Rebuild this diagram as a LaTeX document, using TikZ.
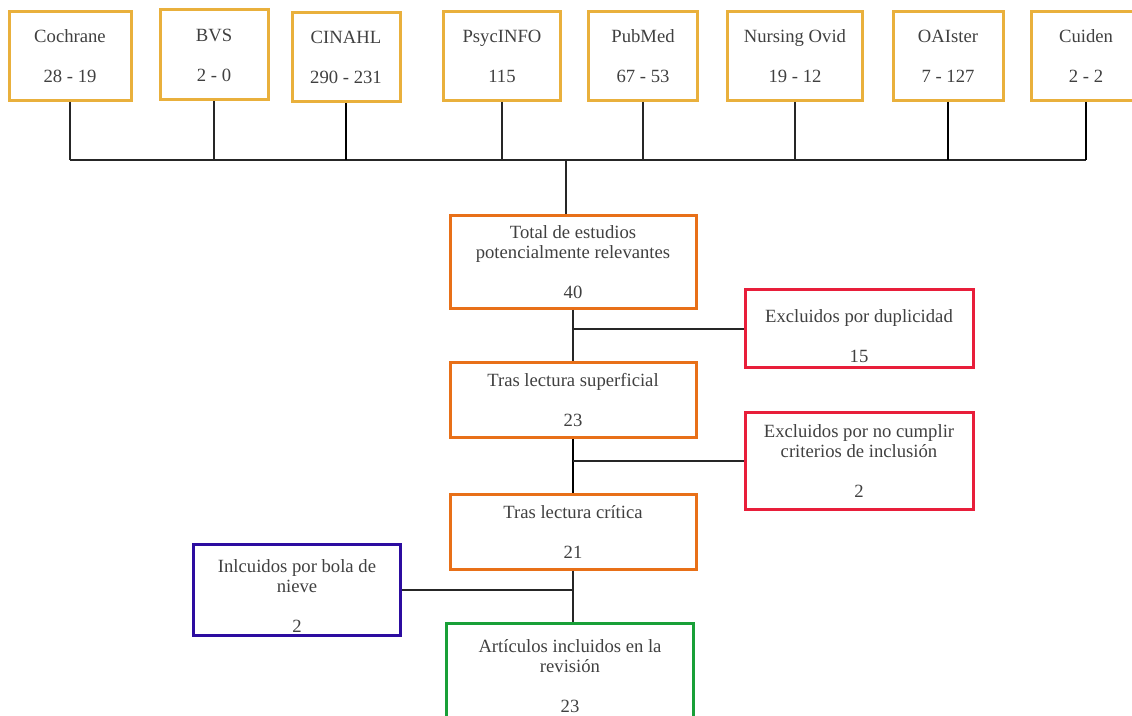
\documentclass[tikz,border=0pt]{standalone}
\usepackage{fontspec}
\setmainfont{Liberation Serif}
\usetikzlibrary{positioning,calc}
\definecolor{oro}{RGB}{233,176,60}
\definecolor{naranja}{RGB}{232,112,24}
\definecolor{rojo}{RGB}{232,30,58}
\definecolor{morado}{RGB}{44,12,160}
\definecolor{verde}{RGB}{24,160,56}
\newcommand*{\px}{0.75pt}
\newcommand*{\cifra}[1]{\\[15pt]#1}
\tikzset{
  caja/.style={draw,line width=2.25pt,align=center,inner sep=0pt,
    text=black!75,font=\fontsize{14}{15}\selectfont},
  fuente/.style={caja,draw=oro,minimum height=89*\px},
  etapa/.style={caja,draw=naranja,minimum width=246*\px},
  excl/.style={caja,draw=rojo,minimum width=228*\px},
  linea/.style={line width=1.1pt,black!85},
  lineag/.style={line width=1.9pt,black}
}

\begin{document}
\begin{tikzpicture}[x=0.75pt,y=-0.75pt]
\useasboundingbox (0,0) rectangle (1132,716);
% Bases de datos
\node[fuente,minimum width=122*\px] (cochrane) at (70,56) {Cochrane\cifra{28 - 19}};
\node[fuente,minimum width=108*\px,minimum height=90*\px] (bvs) at (214,55) {BVS\cifra{2 - 0}};
\node[fuente,minimum width=108*\px] (cinahl) at (346,57) {CINAHL\cifra{290 - 231}};
\node[fuente,minimum width=117*\px] (psyc) at (502,56) {PsycINFO\cifra{115}};
\node[fuente,minimum width=109*\px] (pubmed) at (643,56) {PubMed\cifra{67 - 53}};
\node[fuente,minimum width=135*\px] (ovid) at (795,56) {Nursing Ovid\cifra{19 - 12}};
\node[fuente,minimum width=110*\px] (oaister) at (948,56) {OAIster\cifra{7 - 127}};
\node[fuente,minimum width=110*\px] (cuiden) at (1086,56) {Cuiden\cifra{2 - 2}};
% Linea comun
\coordinate (bus) at (566,160);
\draw[linea] (cochrane.south |- bus) -- (cuiden.south |- bus);
\foreach \n/\s in {cochrane/linea,bvs/linea,cinahl/lineag,psyc/linea,
                   pubmed/linea,ovid/linea,oaister/lineag,cuiden/lineag}
  \draw[\s] (\n.south) -- (\n.south |- bus);
% Etapas del cribado
\node[etapa,minimum height=93*\px] (total) at (573,262) {Total de estudios\\potencialmente relevantes\cifra{40}};
\node[etapa,minimum height=75*\px] (superf) at (573,400) {Tras lectura superficial\cifra{23}};
\node[etapa,minimum height=74*\px] (critica) at (573,532) {Tras lectura crítica\cifra{21}};
\node[caja,draw=verde,minimum width=247*\px,minimum height=106*\px] (incl) at (570,676)
  {Artículos incluidos en la\\revisión\cifra{23}};
% Excluidos e incluidos
\node[excl,minimum height=78*\px] (duplic) at (859,329) {\rule{0pt}{20pt}Excluidos por duplicidad\cifra{15}};
\node[excl,minimum height=97*\px] (noincl) at (859,461) {Excluidos por no cumplir\\criterios de inclusión\cifra{2}};
\node[caja,draw=morado,minimum width=207*\px,minimum height=91*\px] (nieve) at (297,590)
  {\rule{0pt}{18pt}Inlcuidos por bola de\\nieve\cifra{2}};
% Conectores
\draw[linea] (bus) -- (bus |- total.north);
\draw[linea] (total.south) -- (superf.north);
\draw[linea] (duplic.west -| total.south) -- (duplic.west);
\draw[lineag] (superf.south) -- (critica.north);
\draw[linea] (noincl.west -| superf.south) -- (noincl.west);
\draw[linea] (critica.south) -- (critica.south |- incl.north);
\draw[linea] (nieve.east) -- (nieve.east -| critica.south);
\end{tikzpicture}
\end{document}
